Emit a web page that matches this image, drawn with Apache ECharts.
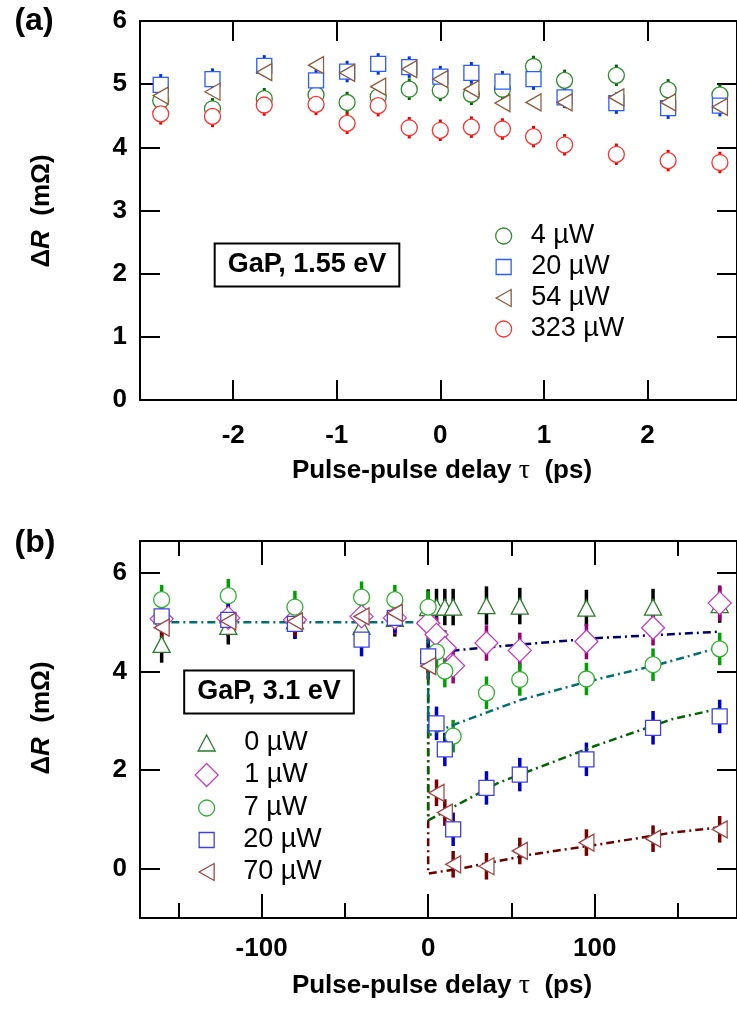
<!DOCTYPE html>
<html><head><meta charset="utf-8">
<script src="https://cdn.jsdelivr.net/npm/echarts@6/dist/echarts.min.js"></script>
<style>html,body{margin:0;padding:0;background:#fff}#c{width:737px;height:1012px}</style>
</head><body><div id="c"></div>
<script>
// ---------- Panel (a): GaP, 1.55 eV ----------
const aDelay  = [-2.7,-2.2,-1.7,-1.2,-0.9,-0.6,-0.3,0,0.3,0.6,0.9,1.2,1.7,2.2,2.7];
const a4uW    = [4.74,4.61,4.77,4.83,4.71,4.80,4.92,4.90,4.84,4.92,5.28,5.06,5.14,4.91,4.83];
const a20uW   = [4.99,5.08,5.29,5.06,5.20,5.32,5.27,5.12,5.18,5.04,5.08,4.79,4.70,4.62,4.66];
const a54uW   = [4.82,4.88,5.19,5.30,5.18,4.96,5.24,5.08,4.92,4.70,4.71,4.71,4.79,4.71,4.64];
const a323uW  = [4.53,4.49,4.67,4.68,4.38,4.66,4.31,4.27,4.32,4.29,4.17,4.04,3.89,3.79,3.76];
const aErr4   = [0.17,0.17,0.17,0.17,0.17,0.17,0.17,0.17,0.17,0.17,0.17,0.17,0.17,0.17,0.17];
const aErr20  = [0.17,0.17,0.17,0.17,0.17,0.17,0.17,0.17,0.17,0.17,0.17,0.17,0.17,0.17,0.17];
const aErr323 = [0.17,0.17,0.17,0.17,0.17,0.17,0.17,0.17,0.17,0.17,0.17,0.17,0.17,0.17,0.17];
const aXTicks = [-2,-1,0,1,2];
const aYTicks = [0,1,2,3,4,5,6];

// ---------- Panel (b): GaP, 3.1 eV ----------
const bDelay  = [-160,-120,-80,-40,-20,0,5,10,15,35,55,95,135,175];
const b0uW    = [4.55,4.92,5.03,4.92,5.08,5.30,5.31,5.31,5.31,5.34,5.33,5.29,5.31,5.36];
const b1uW    = [5.07,5.09,5.05,5.12,5.09,4.98,4.75,4.48,4.12,4.58,4.43,4.61,4.89,5.39];
const b7uW    = [5.46,5.54,5.31,5.51,5.46,5.31,4.40,4.01,2.69,3.57,3.84,3.85,4.14,4.46];
const b20uW   = [5.12,5.05,4.97,4.65,5.09,4.31,2.95,2.42,0.80,1.64,1.91,2.22,2.86,3.09];
const b70uW   = [4.89,5.02,5.02,5.12,5.19,4.11,1.54,1.14,0.09,0.05,0.36,0.53,0.61,0.80];
const bErr0   = [0.37,0.37,0.37,0.37,0.37,0.37,0.37,0.37,0.37,0.39,0.37,0.37,0.37,0.37];
const bErr1   = [0.30,0.33,0.33,0.30,0.33,0.36,0.36,0.36,0.36,0.36,0.36,0.36,0.36,0.36];
const bErr7   = [0.30,0.34,0.33,0.32,0.30,0.33,0.33,0.33,0.33,0.33,0.33,0.33,0.33,0.33];
const bErr20  = [0.30,0.34,0.30,0.34,0.30,0.34,0.34,0.34,0.34,0.34,0.34,0.34,0.34,0.34];
const bErr70  = [0.30,0.30,0.30,0.30,0.30,0.27,0.27,0.27,0.27,0.27,0.27,0.27,0.27,0.27];
// fitted curves (dash-dot)
const bFitX1  = [0,0,16,42,102,175];
const bFitY1  = [5.0,4.38,4.43,4.51,4.68,4.81];
const bFitX7  = [-165,0,0,16,24,56,96,138,175];
const bFitY7  = [5.0,5.0,2.70,2.93,3.03,3.43,3.80,4.14,4.49];
const bFitX20 = [0,0,42,100,146,175];
const bFitY20 = [5.0,0.98,1.74,2.49,3.03,3.25];
const bFitX70 = [0,0,22,62,102,146,175];
const bFitY70 = [5.0,-0.10,0.02,0.29,0.49,0.73,0.84];
const bXTicks = [-100,0,100];
const bXMinor = [-150,-50,50,150];
const bYTicks = [0,2,4,6];

const FONT = '"Liberation Sans", Arial, sans-serif';
const chart = echarts.init(document.getElementById('c'));

function xAx(gi, pos, min, max, ticks, len, showLabel, showLine, margin) {
  return {type:'value', gridIndex:gi, position:pos, min:min, max:max,
    axisLine:{show:showLine, onZero:false, lineStyle:{color:'#000', width:2}},
    axisTick:{show:true, inside:true, length:len, customValues:ticks, lineStyle:{color:'#000', width:2}},
    axisLabel:{show:showLabel, customValues:ticks, margin:margin||19, color:'#000', fontSize:26, fontWeight:'bold', fontFamily:FONT},
    splitLine:{show:false}};
}
function yAx(gi, pos, min, max, ticks, len, showLabel) {
  return {type:'value', gridIndex:gi, position:pos, min:min, max:max,
    axisLine:{show:true, onZero:false, lineStyle:{color:'#000', width:2}},
    axisTick:{show:true, inside:true, length:len, customValues:ticks, lineStyle:{color:'#000', width:2}},
    axisLabel:{show:showLabel, customValues:ticks, margin:13, color:'#000', fontSize:26, fontWeight:'bold', fontFamily:FONT},
    splitLine:{show:false}};
}
function errSeries(xi, yi, xs, ys, es, color, width) {
  return {type:'custom', xAxisIndex:xi, yAxisIndex:yi, silent:true, z:2, animation:false,
    data: xs.map((x,i)=>[x, ys[i], es[i]]),
    renderItem: function(params, api) {
      const x = api.value(0), y = api.value(1), e = api.value(2);
      const p1 = api.coord([x, y+e]), p2 = api.coord([x, y-e]);
      return {type:'line', shape:{x1:p1[0], y1:p1[1], x2:p2[0], y2:p2[1]},
              style:{stroke:color, lineWidth:width}};
    }};
}
function markSeries(name, xi, yi, xs, ys, symbol, size, rotate, color) {
  return {type:'scatter', name:name, xAxisIndex:xi, yAxisIndex:yi, z:4, animation:false,
    symbol:symbol, symbolSize:size, symbolRotate:rotate,
    data: xs.map((x,i)=>[x, ys[i]]),
    itemStyle:{color:'#fff', borderColor:color, borderWidth:1.3, opacity:1},
    emphasis:{disabled:true}};
}
function fitSeries(xs, ys, color) {
  return {type:'line', xAxisIndex:2, yAxisIndex:2, z:3, silent:true, animation:false,
    showSymbol:false, symbol:'none',
    data: xs.map((x,i)=>[x, ys[i]]),
    lineStyle:{color:color, width:2.5, type:[8,4,2,4]}};
}
const LEFTTRI = 'path://M15,0 L15,17 L0,8.5 Z';
function legendItem(name, cx, cy, icon, w, h, color, textGap) {
  return {show:true, selectedMode:false, orient:'horizontal', padding:0, itemGap:0,
    left: cx - w/2, top: cy - 14, itemWidth:w, itemHeight:h,
    data:[{name:name, icon:icon, itemStyle:{color:'#fff', borderColor:color, borderWidth:1.3}}],
    formatter: n => n.slice(2),
    textStyle:{fontSize:27, fontFamily:FONT, color:'#000', lineHeight:28, padding:[0,0,0,textGap]}};
}

const cA = {g4:'#2e8a2e', g4e:'#006400', b20:'#2a5cff', b20e:'#0033e0', br54:'#8b5a3a', r323:'#ff3030', r323e:'#ee0000'};
const cB = {t0:'#2a7a2a', t0e:'#000000', d1:'#c040c0', d1e:'#990077', c7:'#30b030', c7e:'#00a000',
            s20:'#4040e0', s20e:'#0000cc', l70:'#9b4545', l70e:'#7a0000',
            f1:'#000066', f7:'#006e6e', f20:'#006400', f70:'#6b0000'};

const option = {
  animation:false,
  backgroundColor:'#fff',
  grid:[
    {left:140, top:21, width:600, height:379},
    {left:140, top:541, width:600, height:377}
  ],
  xAxis:[
    xAx(0,'bottom',-2.9,2.865,aXTicks,20,true,true,23),
    xAx(0,'top',-2.9,2.865,aXTicks,20,false,true),
    xAx(1,'bottom',-173,185.4,bXTicks,24,true,true,18),
    xAx(1,'top',-173,185.4,bXTicks,24,false,true),
    xAx(1,'bottom',-173,185.4,bXMinor,15,false,false),
    xAx(1,'top',-173,185.4,bXMinor,15,false,false)
  ],
  yAxis:[
    yAx(0,'left',0,6,aYTicks,20,true),
    yAx(0,'right',0,6,aYTicks,20,false),
    yAx(1,'left',-1,6.65,bYTicks,20,true),
    yAx(1,'right',-1,6.65,bYTicks,20,false)
  ],
  legend:[
    legendItem('a:4 µW',   503, 236, 'circle',  16,16, cA.g4, 14),
    legendItem('a:20 µW',  503, 267, 'rect',    15,15, cA.b20, 15),
    legendItem('a:54 µW',  503, 298, LEFTTRI,   15,17, cA.br54, 15),
    legendItem('a:323 µW', 503, 329, 'circle',  16,16, cA.r323, 14),
    legendItem('b:0 µW',   206, 743, 'triangle',17,16, cB.t0, 24),
    legendItem('b:1 µW',   206, 775, 'diamond', 23,23, cB.d1, 21),
    legendItem('b:7 µW',   206, 808, 'circle',  16,16, cB.c7, 24),
    legendItem('b:20 µW',  206, 840, 'rect',    15,15, cB.s20, 24),
    legendItem('b:70 µW',  206, 872, LEFTTRI,   15,17, cB.l70, 24)
  ],
  series:[
    // panel (a)
    errSeries(0,0,aDelay,a4uW,aErr4,cA.g4e,3),
    errSeries(0,0,aDelay,a20uW,aErr20,cA.b20e,3),
    errSeries(0,0,aDelay,a323uW,aErr323,cA.r323e,3),
    markSeries('a:4 µW',0,0,aDelay,a4uW,'circle',16,0,cA.g4),
    markSeries('a:323 µW',0,0,aDelay,a323uW,'circle',16,0,cA.r323),
    markSeries('a:20 µW',0,0,aDelay,a20uW,'rect',15,0,cA.b20),
    markSeries('a:54 µW',0,0,aDelay,a54uW,'triangle',[17,15],90,cA.br54),
    // panel (b) fits
    fitSeries(bFitX70,bFitY70,cB.f70),
    fitSeries(bFitX20,bFitY20,cB.f20),
    fitSeries(bFitX1,bFitY1,cB.f1),
    fitSeries(bFitX7,bFitY7,cB.f7),
    // panel (b) error bars
    errSeries(2,2,bDelay,b0uW,bErr0,cB.t0e,3.5),
    errSeries(2,2,bDelay,b1uW,bErr1,cB.d1e,3.5),
    errSeries(2,2,bDelay,b7uW,bErr7,cB.c7e,3.5),
    errSeries(2,2,bDelay,b20uW,bErr20,cB.s20e,3.5),
    errSeries(2,2,bDelay,b70uW,bErr70,cB.l70e,3.5),
    // panel (b) markers
    markSeries('b:0 µW',2,2,bDelay,b0uW,'triangle',[17,16],0,cB.t0),
    markSeries('b:1 µW',2,2,bDelay,b1uW,'diamond',23,0,cB.d1),
    markSeries('b:7 µW',2,2,bDelay,b7uW,'circle',16,0,cB.c7),
    markSeries('b:20 µW',2,2,bDelay,b20uW,'rect',15,0,cB.s20),
    markSeries('b:70 µW',2,2,bDelay,b70uW,'triangle',[17,15],90,cB.l70)
  ],
  graphic:[
    {type:'text', x:34, y:21, style:{text:'(a)', font:'bold 32px '+FONT, fill:'#000', align:'center', verticalAlign:'middle'}},
    {type:'text', x:35, y:543, style:{text:'(b)', font:'bold 32px '+FONT, fill:'#000', align:'center', verticalAlign:'middle'}},
    {type:'text', x:42, y:211, rotation:Math.PI/2, style:{text:'{b|Δ}{i|R}{b|  (mΩ)}', align:'center', verticalAlign:'middle',
       rich:{b:{font:'bold 26px '+FONT, fill:'#000'}, i:{font:'italic bold 26px '+FONT, fill:'#000'}}}},
    {type:'text', x:42, y:718, rotation:Math.PI/2, style:{text:'{b|Δ}{i|R}{b|  (mΩ)}', align:'center', verticalAlign:'middle',
       rich:{b:{font:'bold 26px '+FONT, fill:'#000'}, i:{font:'italic bold 26px '+FONT, fill:'#000'}}}},
    {type:'text', x:442, y:471, style:{text:'{b|Pulse-pulse delay }{t|τ}{b|  (ps)}', align:'center', verticalAlign:'middle',
       rich:{b:{font:'bold 26px '+FONT, fill:'#000'}, t:{font:'28px "Liberation Serif", serif', fill:'#000'}}}},
    {type:'text', x:442, y:986, style:{text:'{b|Pulse-pulse delay }{t|τ}{b|  (ps)}', align:'center', verticalAlign:'middle',
       rich:{b:{font:'bold 26px '+FONT, fill:'#000'}, t:{font:'28px "Liberation Serif", serif', fill:'#000'}}}},
    {type:'text', x:307, y:265, z:10, style:{text:'GaP, 1.55 eV', font:'bold 27px '+FONT, fill:'#000', align:'center', verticalAlign:'middle',
       backgroundColor:'#fff', borderColor:'#000', borderWidth:2, padding:[7,12,7,12]}},
    {type:'text', x:269, y:692, z:10, style:{text:'GaP, 3.1 eV', font:'bold 27px '+FONT, fill:'#000', align:'center', verticalAlign:'middle',
       backgroundColor:'#fff', borderColor:'#000', borderWidth:2, padding:[7,12,7,12]}}
  ]
};
chart.setOption(option);
</script></body></html>
